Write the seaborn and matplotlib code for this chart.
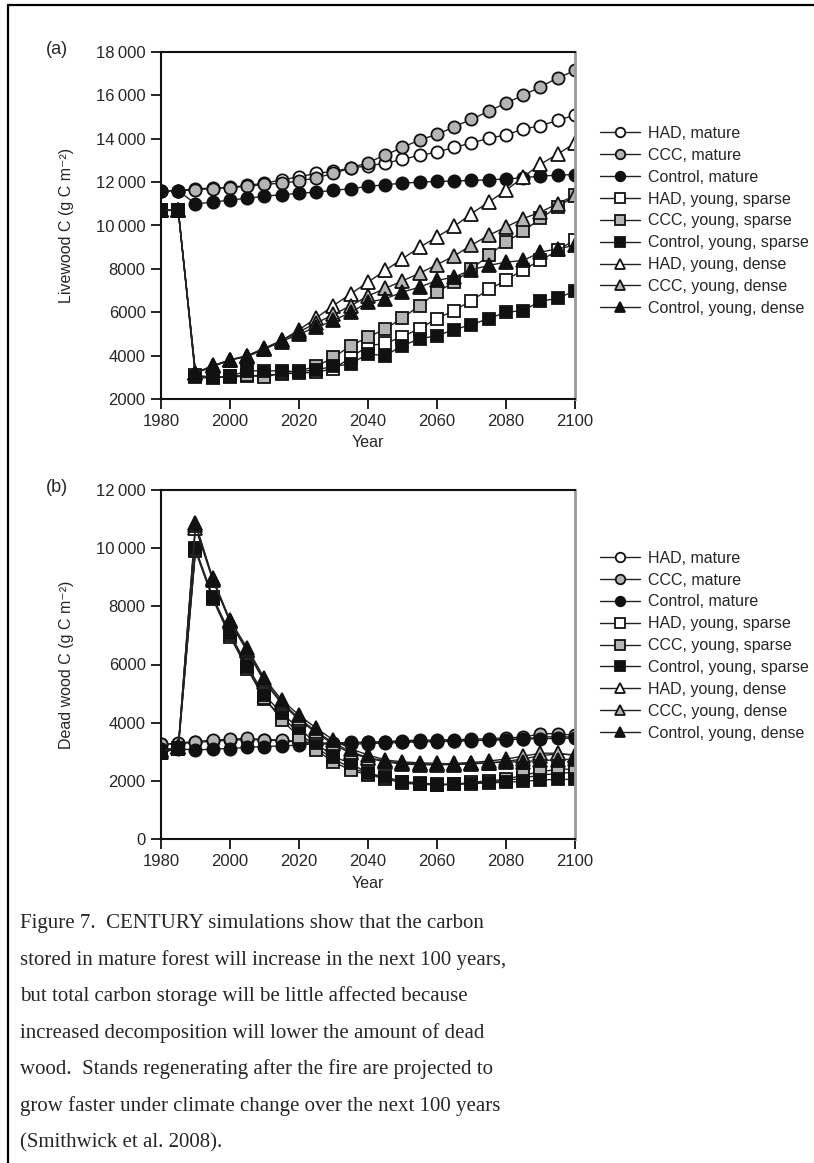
#!/usr/bin/env python3

# import packages
import pandas as pd
import seaborn as sns
import matplotlib.pyplot as plt
from matplotlib.lines import Line2D
from matplotlib.ticker import FuncFormatter

# data, one point every 5 years
years = list(range(1980, 2101, 5))

# (a) livewood C (g C m-2)
live_had_mature = [11600, 11600, 11700, 11720, 11760, 11850, 11950, 12100, 12250, 12400, 12500, 12650, 12750,
                   12870, 13050, 13240, 13380, 13610, 13800, 14030, 14170, 14450, 14600, 14850, 15090]
live_ccc_mature = [11600, 11600, 11650, 11700, 11750, 11800, 11900, 11950, 12050, 12200, 12400, 12650, 12900,
                   13250, 13600, 13950, 14200, 14550, 14900, 15270, 15650, 16000, 16400, 16800, 17150]
live_ctl_mature = [11600, 11600, 11000, 11070, 11180, 11250, 11350, 11420, 11480, 11540, 11620, 11700, 11800,
                   11880, 11950, 12000, 12030, 12050, 12080, 12100, 12150, 12200, 12280, 12320, 12350]
live_had_sparse = [10700, 10700, 3050, 3000, 3000, 3070, 3100, 3150, 3200, 3230, 3400, 3900, 4460,
                   4560, 4880, 5250, 5710, 6080, 6540, 7050, 7470, 7970, 8390, 8850, 9350]
live_ccc_sparse = [10700, 10700, 3100, 3000, 3050, 3100, 3000, 3200, 3300, 3500, 3920, 4460, 4850,
                   5230, 5740, 6310, 6930, 7390, 8000, 8620, 9240, 9730, 10330, 10850, 11390]
live_ctl_sparse = [10700, 10700, 3000, 2950, 3050, 3300, 3300, 3300, 3250, 3350, 3500, 3620, 4080,
                   4000, 4460, 4780, 4920, 5200, 5430, 5710, 6000, 6080, 6510, 6640, 7000]
live_had_dense = [10700, 10700, 3200, 3500, 3800, 4000, 4300, 4700, 5190, 5740, 6310, 6850, 7390,
                  7930, 8470, 9000, 9470, 9960, 10550, 11080, 11620, 12240, 12830, 13290, 13810]
live_ccc_dense = [10700, 10700, 3200, 3500, 3800, 4000, 4350, 4700, 5100, 5500, 5900, 6300, 6750,
                  7100, 7450, 7800, 8200, 8600, 9100, 9550, 9930, 10320, 10620, 11010, 11390]
live_ctl_dense = [10700, 10700, 3200, 3550, 3800, 3950, 4300, 4650, 5000, 5300, 5620, 6000, 6460,
                  6620, 6930, 7160, 7470, 7620, 7960, 8160, 8310, 8390, 8770, 8930, 9080]

# (b) dead wood C (g C m-2)
dead_had_mature = [3250, 3280, 3320, 3360, 3400, 3420, 3400, 3380, 3330, 3280, 3250, 3260, 3280,
                   3300, 3320, 3340, 3350, 3360, 3380, 3400, 3420, 3450, 3500, 3520, 3500]
dead_ccc_mature = [3250, 3300, 3350, 3400, 3430, 3460, 3420, 3400, 3350, 3300, 3280, 3300, 3320,
                   3350, 3380, 3400, 3400, 3420, 3430, 3450, 3480, 3500, 3620, 3620, 3560]
dead_ctl_mature = [3100, 3100, 3060, 3090, 3110, 3150, 3180, 3200, 3230, 3280, 3300, 3320, 3330,
                   3340, 3350, 3360, 3370, 3380, 3390, 3400, 3420, 3430, 3450, 3460, 3470]
dead_had_sparse = [3000, 3100, 9900, 8250, 6950, 5850, 4800, 4200, 3650, 3150, 2750, 2450, 2250,
                   2100, 1950, 1900, 1870, 1880, 1920, 1970, 2000, 2100, 2200, 2250, 2300]
dead_ccc_sparse = [3000, 3100, 9950, 8300, 7000, 5900, 4850, 4090, 3520, 3060, 2650, 2370, 2200,
                   2080, 1920, 1880, 1860, 1880, 1950, 2000, 2050, 2200, 2310, 2400, 2400]
dead_ctl_sparse = [2950, 3130, 9990, 8330, 7070, 5950, 4950, 4320, 3810, 3290, 2830, 2600, 2260,
                   2140, 1970, 1930, 1880, 1880, 1900, 1930, 1950, 1980, 2030, 2050, 2050]
dead_had_dense = [3050, 3150, 10700, 8900, 7450, 6450, 5400, 4650, 4100, 3650, 3250, 2950, 2780,
                  2650, 2580, 2550, 2550, 2560, 2580, 2620, 2670, 2750, 2870, 2920, 2900]
dead_ccc_dense = [3050, 3150, 10800, 8950, 7500, 6500, 5450, 4700, 4150, 3700, 3300, 3000, 2800,
                  2680, 2600, 2580, 2580, 2600, 2630, 2680, 2750, 2850, 2950, 2950, 2870]
dead_ctl_dense = [3000, 3150, 10860, 8960, 7530, 6560, 5520, 4780, 4260, 3810, 3400, 3100, 2890,
                  2720, 2650, 2620, 2600, 2580, 2600, 2620, 2640, 2660, 2700, 2720, 2750]

series_names = ['HAD, mature', 'CCC, mature', 'Control, mature',
                'HAD, young, sparse', 'CCC, young, sparse', 'Control, young, sparse',
                'HAD, young, dense', 'CCC, young, dense', 'Control, young, dense']
live_values = [live_had_mature, live_ccc_mature, live_ctl_mature,
               live_had_sparse, live_ccc_sparse, live_ctl_sparse,
               live_had_dense, live_ccc_dense, live_ctl_dense]
dead_values = [dead_had_mature, dead_ccc_mature, dead_ctl_mature,
               dead_had_sparse, dead_ccc_sparse, dead_ctl_sparse,
               dead_had_dense, dead_ccc_dense, dead_ctl_dense]

caption = ['Figure 7.  CENTURY simulations show that the carbon',
           'stored in mature forest will increase in the next 100 years,',
           'but total carbon storage will be little affected because',
           'increased decomposition will lower the amount of dead',
           'wood.  Stands regenerating after the fire are projected to',
           'grow faster under climate change over the next 100 years',
           '(Smithwick et al. 2008).']

# long tables for seaborn
def to_long(values):
    rows = []
    for name, vals in zip(series_names, values):
        for y, v in zip(years, vals):
            rows.append({'year': y, 'value': v, 'series': name})
    return pd.DataFrame(rows)

df_live = to_long(live_values)
df_dead = to_long(dead_values)

# marker style per series: HAD open, CCC grey, Control black
markers = {'mature': 'o', 'sparse': 's', 'dense': '^'}
fills = {'HAD': 'white', 'CCC': '#b4b4b4', 'Control': '#111111'}

sns.set_theme(style='ticks')
plt.rcParams['font.family'] = ['Liberation Sans', 'DejaVu Sans']

W, H = 814, 1163
fig = plt.figure(figsize=(W / 100, H / 100), dpi=100)
ax_a = fig.add_axes([161 / W, 1 - 399 / H, 414 / W, 347 / H])
ax_b = fig.add_axes([161 / W, 1 - 839 / H, 414 / W, 349 / H])

def thou(v, pos):
    v = int(round(v))
    if v >= 10000:
        return f'{v // 1000}\u2009{v % 1000:03d}'
    return str(v)

def draw_panel(ax, df, ylim, ylabel, leg_top):
    for name in series_names:
        sub = df[df.series == name]
        fc = fills[name.split(',')[0]]
        mk = markers[name.split(', ')[-1]]
        ms = 8.8 if mk != '^' else 9.4
        sns.lineplot(data=sub, x='year', y='value', ax=ax, color='#222222', lw=1.0,
                     marker=mk, ms=ms, markerfacecolor=fc, markeredgecolor='#111111',
                     markeredgewidth=1.3, label=name, errorbar=None)
    ax.set_xlim(1980, 2100)
    ax.set_ylim(*ylim)
    ax.set_xticks(range(1980, 2101, 20))
    ax.set_yticks(range(ylim[0], ylim[1] + 1, 2000))
    ax.yaxis.set_major_formatter(FuncFormatter(thou))
    ax.tick_params(direction='out', length=7, width=1.3, labelsize=12, color='#111111', pad=4)
    for s in ['left', 'bottom', 'top']:
        ax.spines[s].set_color('#111111')
        ax.spines[s].set_linewidth(1.5)
    ax.spines['right'].set_color('#9a9a9a')
    ax.spines['right'].set_linewidth(2.0)
    ax.set_xlabel('Year', fontsize=11.5)
    ax.set_ylabel(ylabel, fontsize=11.5)
    ax.xaxis.set_label_coords(0.5, -0.105)
    ax.yaxis.set_label_coords(-0.21, 0.5)
    ax.legend(loc='upper left', bbox_to_anchor=(1.06, leg_top), frameon=False, fontsize=11.5,
              handlelength=2.5, handletextpad=0.5, labelspacing=0.43, borderpad=0,
              borderaxespad=0, markerscale=0.78)

draw_panel(ax_a, df_live, (2000, 18000), 'Livewood C (g C m\u207b\u00b2)', 0.787)
draw_panel(ax_b, df_dead, (0, 12000), 'Dead wood C (g C m\u207b\u00b2)', 0.826)

fig.text(57 / W, 1 - 50 / H, '(a)', ha='center', va='center', fontsize=13)
fig.text(57 / W, 1 - 488 / H, '(b)', ha='center', va='center', fontsize=13)

# caption below the panels
baselines = [928, 965, 1001, 1038, 1074, 1111, 1147]
for line, b in zip(caption, baselines):
    fig.text(20 / W, 1 - b / H, line, ha='left', va='baseline', fontsize=15,
             family=['Liberation Serif', 'DejaVu Serif'])

# page frame (top and left edges)
fig.add_artist(Line2D([8 / W, 8 / W], [0, 1 - 5 / H], transform=fig.transFigure, color='black', lw=1.6))
fig.add_artist(Line2D([8 / W, 1], [1 - 5 / H, 1 - 5 / H], transform=fig.transFigure, color='black', lw=1.6))

fig.savefig('out.png', dpi=100)
